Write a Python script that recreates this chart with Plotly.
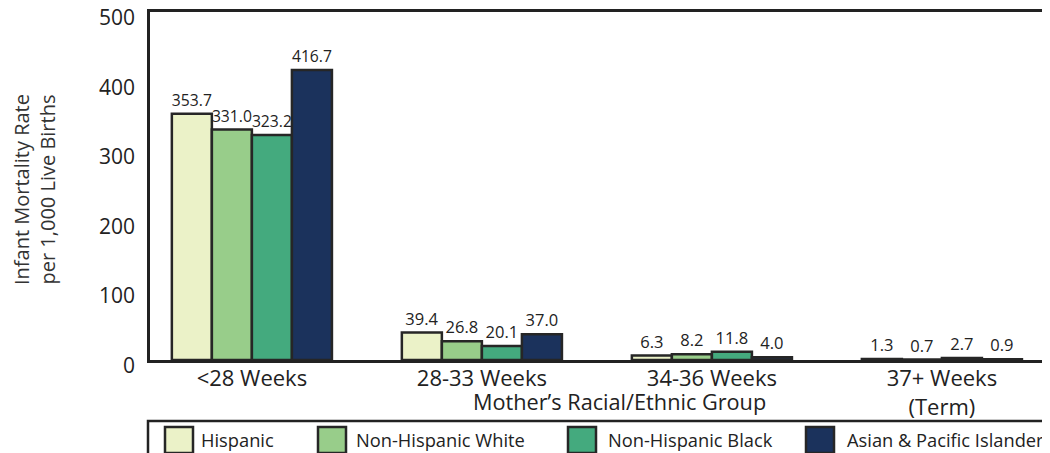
import plotly.graph_objects as go

categories = ["<28 Weeks", "28-33 Weeks", "34-36 Weeks", "37+ Weeks<br>(Term)"]
series_names = ["Hispanic", "Non-Hispanic White", "Non-Hispanic Black", "Asian & Pacific Islander"]
hispanic = [353.7, 39.4, 6.3, 1.3]
nh_white = [331.0, 26.8, 8.2, 0.7]
nh_black = [323.2, 20.1, 11.8, 2.7]
asian_pi = [416.7, 37.0, 4.0, 0.9]
y_ticks = [0, 100, 200, 300, 400, 500]

colors = ["#EBF2C8", "#98CD8A", "#44AA7E", "#1B325C"]
outline = "#262626"
TXT = "#222"
FONT = "Open Sans"

# page offset (browser body margin)
OFF = 8
W, H = 1050 - OFF, 453 - OFF
L, R, T = 150 - OFF, 0, 12 - OFF
B = H - (360 - OFF)
PW, PH = W - L - R, H - T - B


def px(x):
    return (x - OFF - L) / PW


def py(y):
    return (H - B - (y - OFF)) / PH


fig = go.Figure()
for name, vals, col in zip(series_names, [hispanic, nh_white, nh_black, asian_pi], colors):
    fig.add_trace(go.Bar(
        x=categories, y=vals, name=name,
        marker=dict(color=col, line=dict(color=outline, width=2.5)),
        texttemplate="%{y:.1f}", textposition="outside",
        textfont=dict(size=16.5, color=TXT, family=FONT),
        cliponaxis=False,
    ))

shapes = []
annotations = []
# legend box (cut off at bottom/right like reference)
shapes.append(dict(type="rect", xref="paper", yref="paper",
                   x0=px(148), x1=px(1065), y0=py(421), y1=py(480),
                   line=dict(color="#222", width=2.5), fillcolor="rgba(0,0,0,0)"))
sw_x = [165, 318, 568, 806]
tx_x = [199, 354, 606, 845]
for name, col, sx, tx in zip(series_names, colors, sw_x, tx_x):
    shapes.append(dict(type="rect", xref="paper", yref="paper",
                       x0=px(sx), x1=px(sx + 28), y0=py(427), y1=py(453),
                       line=dict(color=outline, width=2.5), fillcolor=col))
    annotations.append(dict(xref="paper", yref="paper", x=px(tx), y=py(439),
                            xanchor="left", yanchor="middle", showarrow=False,
                            text=name, font=dict(size=18.3, color=TXT, family=FONT)))

# y tick labels (sit slightly below their gridline positions, as in the reference)
for v in y_ticks:
    annotations.append(dict(xref="paper", yref="y", x=px(137), y=v,
                            xanchor="right", yanchor="middle", yshift=-5,
                            showarrow=False, text=str(v),
                            font=dict(size=21, color=TXT, family=FONT)))

# axis titles
annotations.append(dict(xref="paper", yref="paper", x=px(619), y=py(401),
                        xanchor="center", yanchor="middle", showarrow=False,
                        text="Mother\u2019s Racial/Ethnic Group",
                        font=dict(size=21.7, color=TXT, family=FONT)))
annotations.append(dict(xref="paper", yref="paper", x=px(34), y=py(190),
                        xanchor="center", yanchor="middle", showarrow=False,
                        textangle=-90,
                        text="Infant Mortality Rate<br>per 1,000 Live Births",
                        font=dict(size=20, color="#333", family=FONT)))

fig.update_layout(
    width=W, height=H,
    margin=dict(l=L, r=R, t=T, b=B, autoexpand=False),
    paper_bgcolor="white", plot_bgcolor="white",
    barmode="group", bargap=0.304, bargroupgap=0,
    showlegend=False,
    font=dict(family=FONT, color=TXT),
    shapes=shapes, annotations=annotations,
)
fig.update_xaxes(
    range=[-0.443, 3.47], showline=True, mirror=True, linecolor="#222", linewidth=2.5,
    ticks="", showgrid=False, automargin=False, ticklabelstandoff=-3,
    tickfont=dict(size=22, color=TXT, family=FONT),
)
fig.update_yaxes(
    range=[0, 500], tickvals=y_ticks, showline=True, mirror=False, linecolor="#222",
    linewidth=2.5, showgrid=False, zeroline=False, ticks="", showticklabels=False,
    automargin=False,
)

fig.write_html("out.html")
